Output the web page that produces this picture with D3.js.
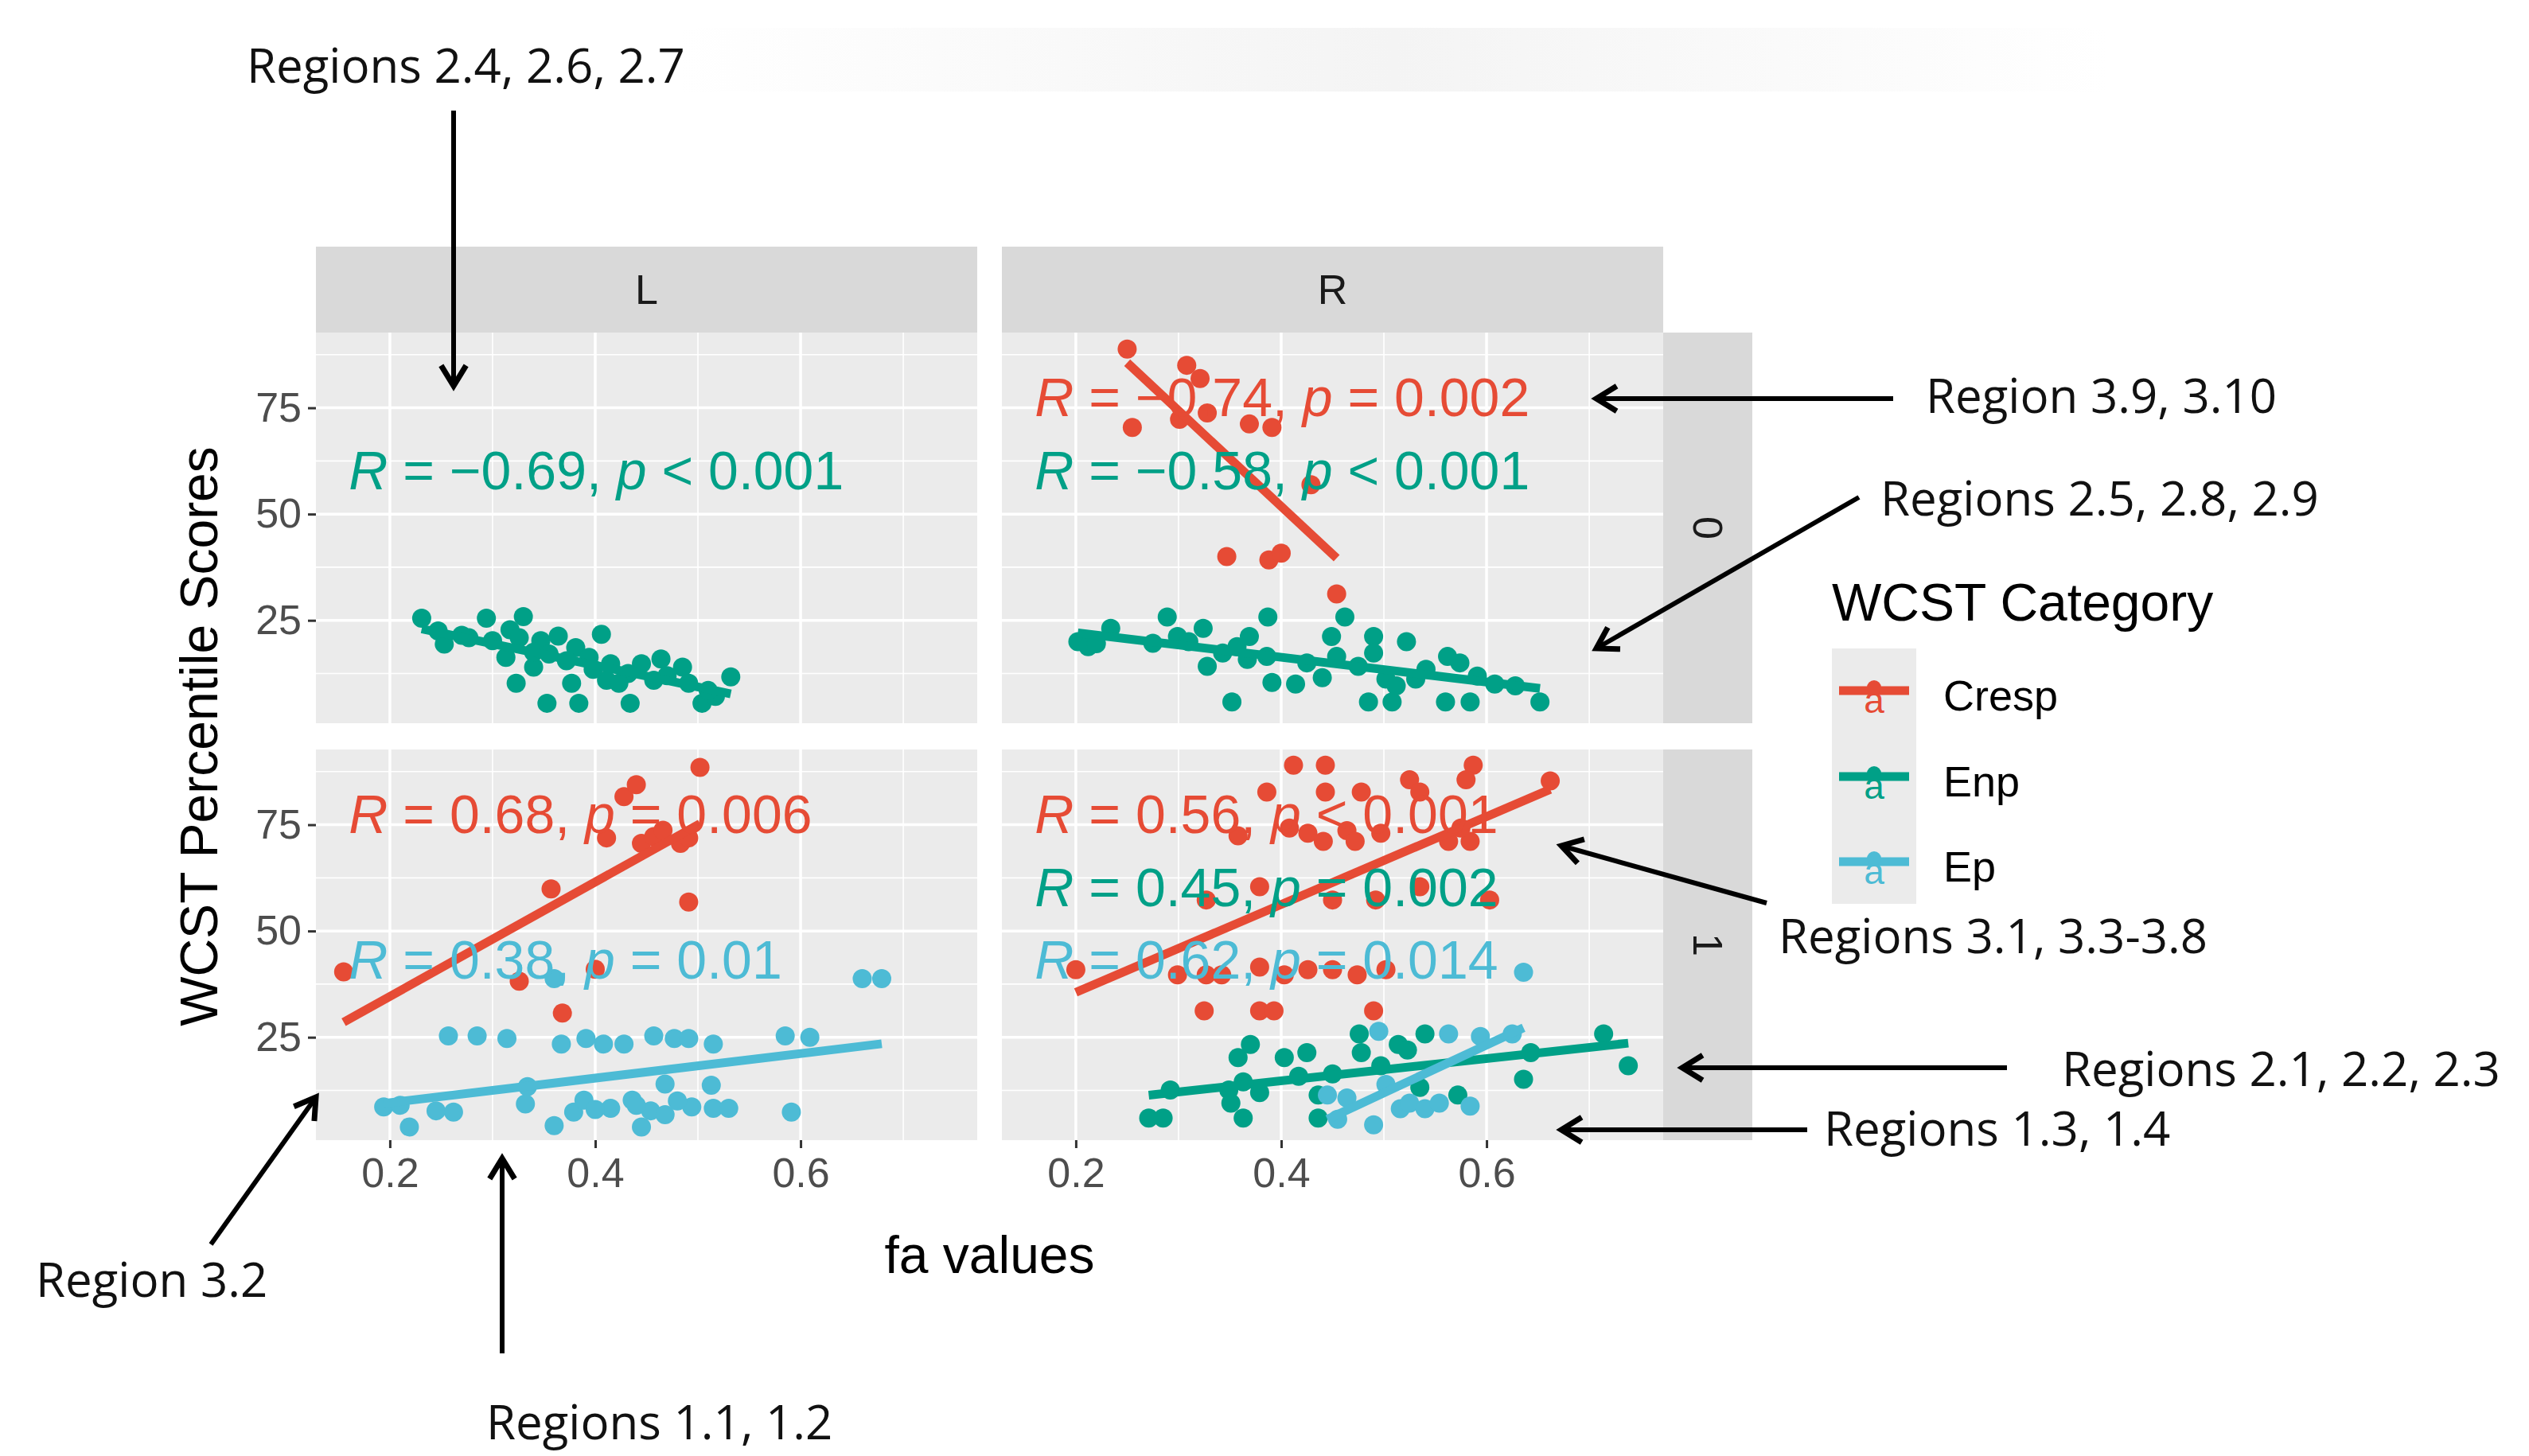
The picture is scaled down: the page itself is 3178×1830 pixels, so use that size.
<!DOCTYPE html>
<html>
<head>
<meta charset="utf-8">
<script src="https://cdn.jsdelivr.net/npm/d3@7"></script>
<style>
body { margin: 0; background: #fff; }
svg text { font-family: "Liberation Sans", Arial, sans-serif; }
svg text.note { font-family: "Open Sans", sans-serif; }
</style>
</head>
<body>
<div id="chart"></div>
<script>
// values
var categories = ['Cresp', 'Enp', 'Ep'];
var colors = ['#E64B35', '#00A087', '#4DBBD5'];
var hemis = ['L', 'R'];
var groups = ['0', '1'];
var x_ticks = [0.2, 0.4, 0.6];
var y_ticks = [25, 50, 75];

// [fa, percentile]
var enp_L0 = [[0.231,25.5],[0.294,25.5],[0.330,25.9],[0.317,22.8],[0.247,22.5],[0.253,19.4],[0.277,20.9],[0.300,20.2],[0.326,20.9],[0.347,20.2],[0.364,21.3],[0.381,18.6],[0.406,21.7],[0.355,17.1],[0.313,16.3],[0.340,14.0],[0.372,15.5],[0.394,16.3],[0.415,14.8],[0.445,14.8],[0.464,15.9],[0.485,14.0],[0.432,12.5],[0.411,10.9],[0.377,10.2],[0.323,10.2],[0.353,5.5],[0.384,5.5],[0.434,5.5],[0.504,5.5],[0.517,7.1],[0.532,11.7],[0.491,10.2],[0.457,10.9],[0.423,10.2],[0.340,17.5],[0.270,21.5],[0.398,13.5],[0.470,12.0],[0.510,8.5]];
var cresp_R0 = [[0.250,88.8],[0.308,85.0],[0.321,81.9],[0.328,73.8],[0.301,72.3],[0.255,70.4],[0.369,71.2],[0.391,70.4],[0.429,56.9],[0.347,40.0],[0.388,39.2],[0.400,40.8],[0.454,31.2]];
var enp_R0 = [[0.202,20.0],[0.212,18.8],[0.234,23.1],[0.275,19.6],[0.289,25.8],[0.299,21.2],[0.324,23.1],[0.328,14.2],[0.352,5.8],[0.357,18.8],[0.367,15.8],[0.369,21.2],[0.387,25.8],[0.391,10.4],[0.414,10.0],[0.440,11.5],[0.449,21.2],[0.454,16.5],[0.462,25.8],[0.475,14.2],[0.485,5.8],[0.490,21.2],[0.490,17.3],[0.502,11.2],[0.508,5.8],[0.522,20.0],[0.531,11.2],[0.541,13.5],[0.562,16.5],[0.574,15.0],[0.560,5.8],[0.584,5.8],[0.591,11.9],[0.608,10.0],[0.652,5.8],[0.386,16.5],[0.425,15.0],[0.343,17.3],[0.512,9.6],[0.628,9.6],[0.220,19.5],[0.310,20.0]];
var cresp_L1 = [[0.155,40.4],[0.357,59.9],[0.326,38.2],[0.368,30.7],[0.400,41.0],[0.411,71.9],[0.428,81.6],[0.440,84.4],[0.445,70.6],[0.457,72.2],[0.466,73.7],[0.483,70.6],[0.491,71.9],[0.491,56.8],[0.502,88.5]];
var ep_L1 = [[0.257,25.3],[0.285,25.3],[0.314,24.7],[0.360,38.8],[0.367,23.4],[0.391,24.7],[0.408,23.4],[0.428,23.4],[0.457,25.3],[0.477,24.7],[0.491,24.7],[0.515,23.4],[0.585,25.3],[0.609,25.0],[0.660,38.8],[0.679,38.8],[0.194,8.6],[0.219,3.9],[0.245,7.7],[0.262,7.4],[0.332,9.3],[0.334,13.4],[0.360,4.2],[0.379,7.4],[0.389,10.2],[0.415,8.3],[0.436,10.2],[0.445,3.9],[0.454,7.7],[0.468,14.0],[0.468,6.8],[0.494,8.6],[0.513,13.7],[0.515,8.3],[0.530,8.3],[0.591,7.4],[0.440,9.0],[0.210,9.0],[0.400,8.0],[0.480,10.0]];
var cresp_R1 = [[0.412,89.0],[0.443,89.0],[0.587,89.0],[0.386,82.7],[0.443,82.7],[0.478,82.7],[0.525,85.6],[0.535,82.7],[0.580,85.6],[0.662,85.3],[0.358,72.4],[0.408,74.2],[0.426,73.0],[0.441,71.1],[0.464,73.6],[0.472,71.1],[0.497,73.0],[0.563,71.1],[0.584,71.1],[0.575,74.2],[0.379,60.4],[0.327,57.3],[0.450,57.3],[0.492,57.3],[0.535,60.4],[0.603,57.3],[0.200,40.9],[0.299,39.7],[0.327,39.7],[0.342,39.7],[0.379,41.5],[0.403,39.7],[0.426,40.9],[0.450,40.9],[0.474,39.7],[0.502,40.9],[0.325,31.2],[0.379,31.2],[0.393,31.2],[0.490,31.2]];
var enp_R1 = [[0.271,6.0],[0.285,6.0],[0.292,12.6],[0.358,20.2],[0.363,14.5],[0.370,23.3],[0.363,6.0],[0.351,9.5],[0.403,20.2],[0.425,21.4],[0.417,15.8],[0.436,11.4],[0.436,6.0],[0.450,16.4],[0.476,25.8],[0.478,21.4],[0.497,18.3],[0.514,23.3],[0.523,22.0],[0.540,25.8],[0.535,13.2],[0.572,11.4],[0.636,15.1],[0.643,21.4],[0.714,25.8],[0.738,18.3],[0.379,12.0],[0.349,12.6]];
var ep_R1 = [[0.636,40.3],[0.495,26.4],[0.563,25.8],[0.594,25.2],[0.625,25.8],[0.445,11.4],[0.464,10.7],[0.490,4.4],[0.516,8.2],[0.525,9.5],[0.540,8.2],[0.554,9.5],[0.584,8.8],[0.502,13.9],[0.455,5.7]];

var series = [
    {hemi: 'L', grp: '0', cat: 1, pts: enp_L0},
    {hemi: 'R', grp: '0', cat: 0, pts: cresp_R0},
    {hemi: 'R', grp: '0', cat: 1, pts: enp_R0},
    {hemi: 'L', grp: '1', cat: 0, pts: cresp_L1},
    {hemi: 'L', grp: '1', cat: 2, pts: ep_L1},
    {hemi: 'R', grp: '1', cat: 0, pts: cresp_R1},
    {hemi: 'R', grp: '1', cat: 1, pts: enp_R1},
    {hemi: 'R', grp: '1', cat: 2, pts: ep_R1}
];

var cor_labels = [
    {hemi: 'L', grp: '0', cat: 1, r: '\u22120.69', op: '<', p: '0.001'},
    {hemi: 'R', grp: '0', cat: 0, r: '\u22120.74', op: '=', p: '0.002'},
    {hemi: 'R', grp: '0', cat: 1, r: '\u22120.58', op: '<', p: '0.001'},
    {hemi: 'L', grp: '1', cat: 0, r: '0.68', op: '=', p: '0.006'},
    {hemi: 'L', grp: '1', cat: 2, r: '0.38', op: '=', p: '0.01'},
    {hemi: 'R', grp: '1', cat: 0, r: '0.56', op: '<', p: '0.001'},
    {hemi: 'R', grp: '1', cat: 1, r: '0.45', op: '=', p: '0.002'},
    {hemi: 'R', grp: '1', cat: 2, r: '0.62', op: '=', p: '0.014'}
];
var label_x = 0.16;
var label_y = [77.5, 60.3, 43.2];

var notes = [
    {text: 'Regions 2.4, 2.6, 2.7', tx: 310, ty: 104, from: [570, 139], to: [570, 485]},
    {text: 'Region 3.9, 3.10', tx: 2420, ty: 519, from: [2379, 501], to: [2006, 501]},
    {text: 'Regions 2.5, 2.8, 2.9', tx: 2363, ty: 648, from: [2336, 625], to: [2006, 815]},
    {text: 'Regions 3.1, 3.3-3.8', tx: 2235, ty: 1198, from: [2220, 1135], to: [1962, 1063]},
    {text: 'Regions 2.1, 2.2, 2.3', tx: 2591, ty: 1365, from: [2522, 1342], to: [2114, 1342]},
    {text: 'Regions 1.3, 1.4', tx: 2292, ty: 1440, from: [2271, 1420], to: [1962, 1420]},
    {text: 'Region 3.2', tx: 45, ty: 1630, from: [265, 1564], to: [397, 1379]},
    {text: 'Regions 1.1, 1.2', tx: 611, ty: 1809, from: [631, 1701], to: [631, 1456]}
];

// layout
var chart_width = 3178;
var chart_height = 1830;
var panel_w = 831;
var panel_h = 491;
var panel_x = {L: 397, R: 1259};
var panel_y = {'0': 418, '1': 942};
var strip_h = 108;
var strip_w = 112;

var svg = d3.select('#chart')
    .append('svg')
    .attr('width', chart_width)
    .attr('height', chart_height);

var x_scale = d3.scaleLinear()
    .domain([0.128, 0.772])
    .range([0, panel_w]);

var y_scale = d3.scaleLinear()
    .domain([0.8, 92.7])
    .range([panel_h, 0]);

// faint shadow at the top of the picture
var grad = svg.append('defs').append('linearGradient')
    .attr('id', 'topfade').attr('x1', 0).attr('x2', 1);
grad.append('stop').attr('offset', '0').attr('stop-color', '#fff');
grad.append('stop').attr('offset', '0.5').attr('stop-color', '#f4f4f4');
grad.append('stop').attr('offset', '1').attr('stop-color', '#fff');
svg.append('rect').attr('x', 850).attr('y', 35).attr('width', 1800).attr('height', 80)
    .attr('fill', 'url(#topfade)');

// top strips
hemis.forEach(function (h) {
    svg.append('rect')
        .attr('x', panel_x[h]).attr('y', panel_y['0'] - strip_h)
        .attr('width', panel_w).attr('height', strip_h)
        .attr('fill', '#D9D9D9');
    svg.append('text')
        .attr('x', panel_x[h] + panel_w / 2)
        .attr('y', panel_y['0'] - strip_h / 2)
        .attr('text-anchor', 'middle')
        .attr('dominant-baseline', 'central')
        .attr('font-size', 52)
        .attr('fill', '#1A1A1A')
        .text(h);
});

// right strips
groups.forEach(function (g) {
    var sx = panel_x.R + panel_w;
    svg.append('rect')
        .attr('x', sx).attr('y', panel_y[g])
        .attr('width', strip_w).attr('height', panel_h)
        .attr('fill', '#D9D9D9');
    svg.append('text')
        .attr('transform', 'translate(' + (sx + strip_w / 2) + ',' + (panel_y[g] + panel_h / 2) + ') rotate(90)')
        .attr('text-anchor', 'middle')
        .attr('dominant-baseline', 'central')
        .attr('font-size', 52)
        .attr('fill', '#1A1A1A')
        .text(g);
});

// panels
var panels = {};
hemis.forEach(function (h) {
    groups.forEach(function (g) {
        var p = svg.append('g')
            .attr('transform', 'translate(' + panel_x[h] + ',' + panel_y[g] + ')');
        p.append('rect')
            .attr('width', panel_w).attr('height', panel_h)
            .attr('fill', '#EBEBEB');
        // minor grid
        p.selectAll('.xminor').data([0.3, 0.5, 0.7]).enter().append('line')
            .attr('x1', x_scale).attr('x2', x_scale)
            .attr('y1', 0).attr('y2', panel_h)
            .attr('stroke', '#fff').attr('stroke-width', 1.6);
        p.selectAll('.yminor').data([12.5, 37.5, 62.5, 87.5]).enter().append('line')
            .attr('y1', y_scale).attr('y2', y_scale)
            .attr('x1', 0).attr('x2', panel_w)
            .attr('stroke', '#fff').attr('stroke-width', 1.6);
        // major grid
        p.selectAll('.xmajor').data(x_ticks).enter().append('line')
            .attr('x1', x_scale).attr('x2', x_scale)
            .attr('y1', 0).attr('y2', panel_h)
            .attr('stroke', '#fff').attr('stroke-width', 3.5);
        p.selectAll('.ymajor').data(y_ticks).enter().append('line')
            .attr('y1', y_scale).attr('y2', y_scale)
            .attr('x1', 0).attr('x2', panel_w)
            .attr('stroke', '#fff').attr('stroke-width', 3.5);
        panels[h + g] = p;
    });
});

// least squares line over the range of the data
function fit(pts) {
    var mx = d3.mean(pts, function (d) { return d[0]; });
    var my = d3.mean(pts, function (d) { return d[1]; });
    var sxy = d3.sum(pts, function (d) { return (d[0] - mx) * (d[1] - my); });
    var sxx = d3.sum(pts, function (d) { return (d[0] - mx) * (d[0] - mx); });
    var b = sxy / sxx;
    var a = my - b * mx;
    var ext = d3.extent(pts, function (d) { return d[0]; });
    return [[ext[0], a + b * ext[0]], [ext[1], a + b * ext[1]]];
}

series.forEach(function (s) {
    var p = panels[s.hemi + s.grp];
    p.append('g').selectAll('circle')
        .data(s.pts)
        .enter()
        .append('circle')
        .attr('cx', function (d) { return x_scale(d[0]); })
        .attr('cy', function (d) { return y_scale(d[1]); })
        .attr('r', 12)
        .attr('fill', colors[s.cat]);
});

series.forEach(function (s) {
    var p = panels[s.hemi + s.grp];
    var ln = fit(s.pts);
    p.append('line')
        .attr('x1', x_scale(ln[0][0])).attr('y1', y_scale(ln[0][1]))
        .attr('x2', x_scale(ln[1][0])).attr('y2', y_scale(ln[1][1]))
        .attr('stroke', colors[s.cat])
        .attr('stroke-width', 11);
});

cor_labels.forEach(function (c) {
    var p = panels[c.hemi + c.grp];
    var t = p.append('text')
        .attr('x', x_scale(label_x))
        .attr('y', y_scale(label_y[c.cat]))
        .attr('dominant-baseline', 'central')
        .attr('font-size', 68)
        .attr('fill', colors[c.cat]);
    t.append('tspan').attr('font-style', 'italic').text('R');
    t.append('tspan').text(' = ' + c.r + ', ');
    t.append('tspan').attr('font-style', 'italic').text('p');
    t.append('tspan').text(' ' + c.op + ' ' + c.p);
});

// axes
groups.forEach(function (g) {
    var ax = svg.append('g')
        .attr('transform', 'translate(' + panel_x.L + ',' + panel_y[g] + ')')
        .call(d3.axisLeft(y_scale).tickValues(y_ticks).tickSize(10).tickPadding(8));
    ax.select('.domain').remove();
    ax.selectAll('line').attr('stroke', '#333').attr('stroke-width', 3);
    ax.selectAll('text').attr('font-size', 52).attr('fill', '#4D4D4D')
        .attr('font-family', '"Liberation Sans", Arial, sans-serif');
});
hemis.forEach(function (h) {
    var ax = svg.append('g')
        .attr('transform', 'translate(' + panel_x[h] + ',' + (panel_y['1'] + panel_h) + ')')
        .call(d3.axisBottom(x_scale).tickValues(x_ticks).tickSize(10).tickPadding(12).tickFormat(d3.format('.1f')));
    ax.select('.domain').remove();
    ax.selectAll('line').attr('stroke', '#333').attr('stroke-width', 3);
    ax.selectAll('text').attr('font-size', 52).attr('fill', '#4D4D4D')
        .attr('font-family', '"Liberation Sans", Arial, sans-serif');
});

svg.append('text')
    .attr('transform', 'translate(250,' + ((panel_y['0'] + panel_y['1'] + panel_h) / 2) + ') rotate(-90)')
    .attr('text-anchor', 'middle')
    .attr('dominant-baseline', 'central')
    .attr('font-size', 66)
    .text('WCST Percentile Scores');

svg.append('text')
    .attr('x', (panel_x.L + panel_x.R + panel_w) / 2)
    .attr('y', 1600)
    .attr('text-anchor', 'middle')
    .attr('font-size', 66)
    .text('fa values');

// legend
var legend = svg.append('g').attr('transform', 'translate(2302,0)');
legend.append('text')
    .attr('x', 0).attr('y', 757)
    .attr('dominant-baseline', 'central')
    .attr('font-size', 66)
    .text('WCST Category');
var key_y = [868, 976, 1083];
legend.append('rect')
    .attr('x', 0).attr('y', 815)
    .attr('width', 106).attr('height', 321)
    .attr('fill', '#EBEBEB');
categories.forEach(function (c, i) {
    legend.append('line')
        .attr('x1', 9).attr('x2', 97)
        .attr('y1', key_y[i]).attr('y2', key_y[i])
        .attr('stroke', colors[i]).attr('stroke-width', 11);
    legend.append('circle')
        .attr('cx', 53).attr('cy', key_y[i] - 4).attr('r', 9)
        .attr('fill', colors[i]);
    legend.append('text')
        .attr('x', 53).attr('y', key_y[i] + 28)
        .attr('text-anchor', 'middle')
        .attr('font-size', 46)
        .attr('fill', colors[i])
        .text('a');
    legend.append('text')
        .attr('x', 140).attr('y', key_y[i] + 6)
        .attr('dominant-baseline', 'central')
        .attr('font-size', 54)
        .text(c);
});

// annotations
function arrow(from, to) {
    var ang = Math.atan2(to[1] - from[1], to[0] - from[0]);
    var len = 30, spread = 0.55;
    var a1 = [to[0] - len * Math.cos(ang - spread), to[1] - len * Math.sin(ang - spread)];
    var a2 = [to[0] - len * Math.cos(ang + spread), to[1] - len * Math.sin(ang + spread)];
    svg.append('line')
        .attr('x1', from[0]).attr('y1', from[1])
        .attr('x2', to[0]).attr('y2', to[1])
        .attr('stroke', '#000').attr('stroke-width', 6);
    svg.append('path')
        .attr('d', d3.line()([a1, to, a2]))
        .attr('fill', 'none')
        .attr('stroke', '#000').attr('stroke-width', 7)
        .attr('stroke-linejoin', 'miter');
}
notes.forEach(function (n) {
    arrow(n.from, n.to);
    svg.append('text')
        .attr('class', 'note')
        .attr('x', n.tx).attr('y', n.ty)
        .attr('font-size', 60)
        .attr('fill', '#111')
        .text(n.text);
});
</script>
</body>
</html>
